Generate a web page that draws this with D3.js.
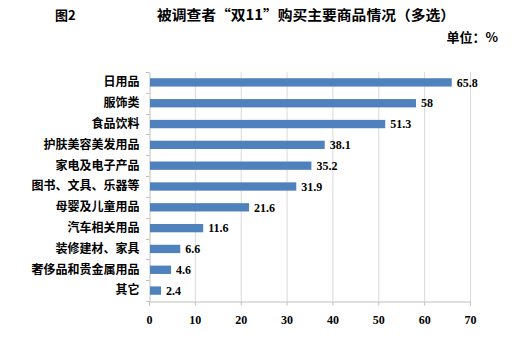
<!DOCTYPE html>
<html><head><meta charset="utf-8">
<script src="https://cdn.jsdelivr.net/npm/d3@7"></script>
<style>
html,body{margin:0;padding:0;background:#fff;}
svg{display:block;}
</style></head>
<body>
<svg id="chart" width="515" height="342"></svg>
<script>
const categories = ["日用品","服饰类","食品饮料","护肤美容美发用品","家电及电子产品","图书、文具、乐器等","母婴及儿童用品","汽车相关用品","装修建材、家具","奢侈品和贵金属用品","其它"];
const values = [65.8,58,51.3,38.1,35.2,31.9,21.6,11.6,6.6,4.6,2.4];
const xTicks = [0,10,20,30,40,50,60,70];
const figLabel = "图2";
const title = "被调查者“双11”购买主要商品情况（多选）";
const unitLabel = "单位：%";

const svg = d3.select("#chart");
const m = {left:149, right:470, top:72, bottom:301};
const x = d3.scaleLinear().domain([0,70]).range([m.left, m.right]);
const y = d3.scaleBand().domain(categories).range([m.top, m.bottom]).paddingInner(0.6).paddingOuter(0.3);
const yb = d3.scaleBand().domain(categories).range([m.top, m.bottom]);
const cjk = "'Noto Sans CJK SC', sans-serif";
const serif = "'Liberation Serif','Times New Roman',serif";

// gridlines
svg.append("g").selectAll("line").data(xTicks.filter(d=>d>0)).join("line")
  .attr("x1",d=>x(d)+0.5).attr("x2",d=>x(d)+0.5)
  .attr("y1",m.top).attr("y2",m.bottom)
  .attr("stroke","#d9d9d9").attr("stroke-width",1);

// x axis
const xa = svg.append("g").attr("transform",`translate(0,${m.bottom+0.5})`)
  .call(d3.axisBottom(x).tickValues(xTicks).tickSize(4).tickPadding(10).tickFormat(d3.format("d")));
xa.select(".domain").attr("stroke","#bfbfbf");
xa.selectAll(".tick line").attr("stroke","#bfbfbf");
xa.selectAll("text").attr("font-family",serif).attr("font-weight","bold").attr("font-size","12px").attr("fill","#000");

// y axis
const ya = svg.append("g").attr("transform",`translate(${m.left+0.5},0)`)
  .call(d3.axisLeft(yb).tickSize(0).tickPadding(10));
ya.select(".domain").attr("stroke","#bfbfbf");
ya.selectAll("text").attr("font-family",cjk).attr("font-weight","bold").attr("font-size","12px").attr("fill","#000");
// boundary ticks
const bounds = categories.map(c=>yb(c)).concat([m.bottom]);
svg.append("g").selectAll("line").data(bounds).join("line")
  .attr("x1",m.left-3).attr("x2",m.left+0.5)
  .attr("y1",d=>Math.round(d)+0.5).attr("y2",d=>Math.round(d)+0.5)
  .attr("stroke","#bfbfbf");

// bars
svg.append("g").selectAll("rect").data(values).join("rect")
  .attr("x",x(0)+1).attr("y",(d,i)=>y(categories[i]))
  .attr("width",d=>x(d)-x(0)).attr("height",y.bandwidth())
  .attr("fill","#4f81bd");

// value labels
svg.append("g").selectAll("text").data(values).join("text")
  .attr("x",d=>x(d)+6).attr("y",(d,i)=>y(categories[i])+y.bandwidth()/2)
  .attr("dy","0.35em")
  .attr("font-family",serif).attr("font-weight","bold").attr("font-size","12px")
  .text(d=>d);

// titles
svg.append("text").attr("x",55).attr("y",20).attr("font-family",cjk).attr("font-weight","bold").attr("font-size","13px").text(figLabel);
svg.append("text").attr("x",157).attr("y",20).attr("font-family",cjk).attr("font-weight","bold").attr("font-size","14px").attr("textLength",298).attr("lengthAdjust","spacingAndGlyphs").text(title);
svg.append("text").attr("x",498).attr("y",42).attr("text-anchor","end").attr("font-family",cjk).attr("font-weight","bold").attr("font-size","13px").text(unitLabel);
</script>
</body></html>
